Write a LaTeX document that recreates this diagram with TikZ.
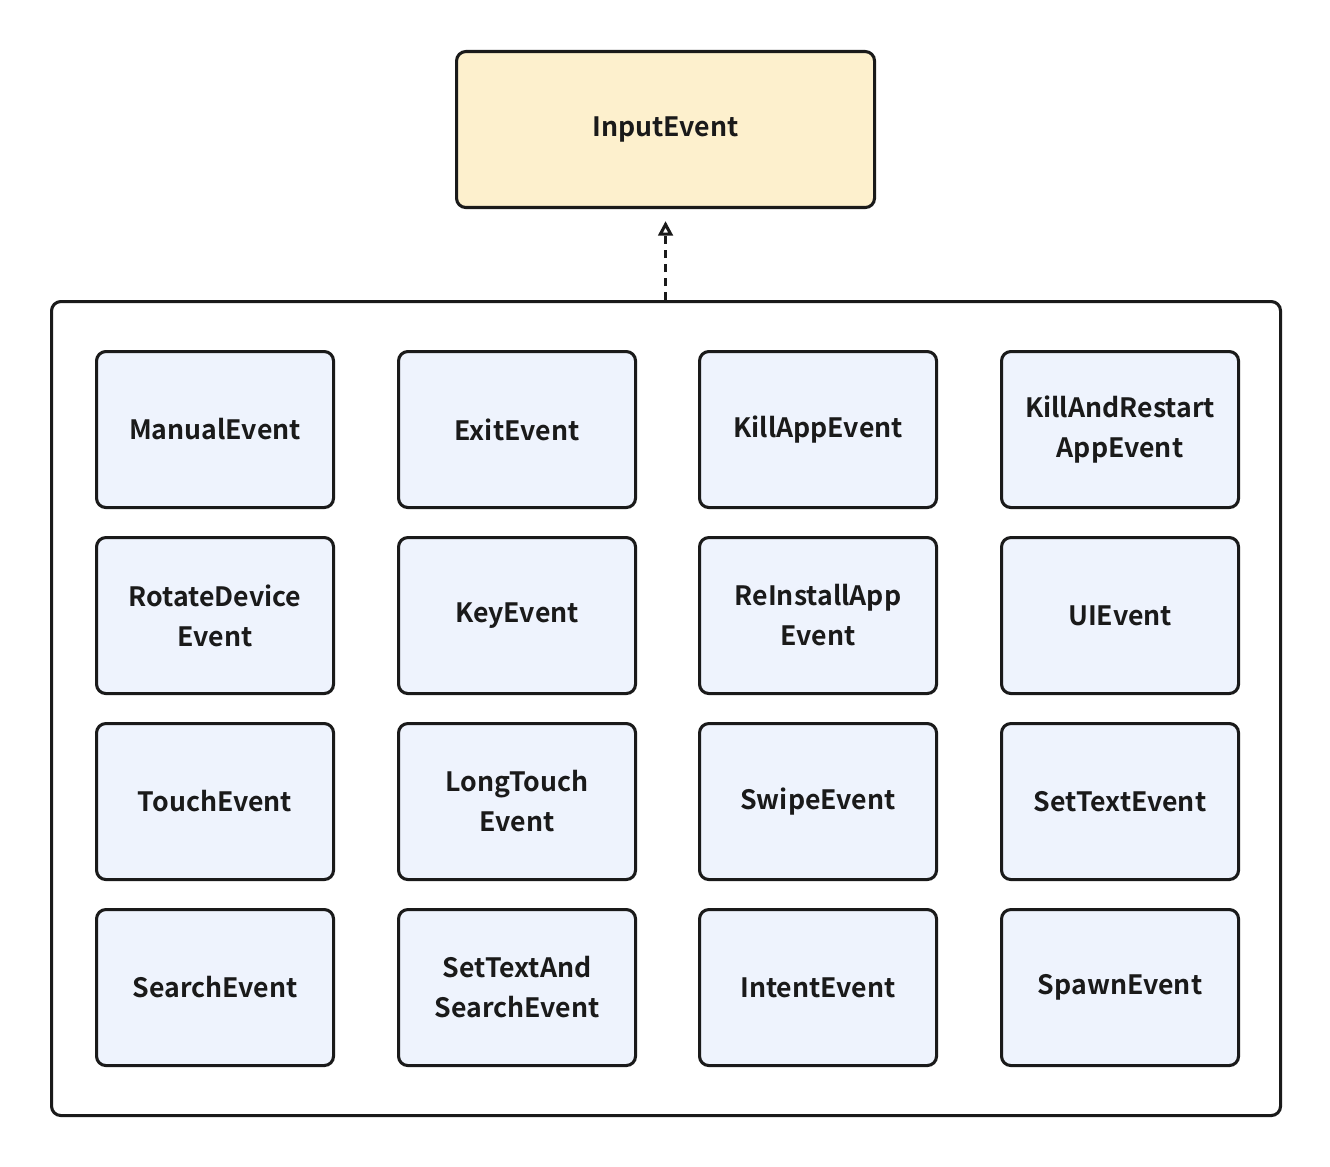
\documentclass[tikz,border=0pt]{standalone}
\usepackage{fontspec}
\setmainfont{Noto Sans CJK SC}[BoldFont={* Bold}]
\usetikzlibrary{arrows.meta}
\definecolor{topfill}{HTML}{FDF0CD}
\definecolor{boxfill}{HTML}{EEF3FD}
\definecolor{ink}{HTML}{1A1A1A}
\begin{document}
\begin{tikzpicture}[x=0.75pt,y=-0.75pt,
  box/.style={draw=ink,line width=2.3pt,rounded corners=7pt,fill=boxfill,minimum width=237*0.75pt,minimum height=156*0.75pt,align=center,font=\fontsize{20}{30}\selectfont\bfseries,text=ink,anchor=north west},
  top/.style={box,fill=topfill,minimum width=418*0.75pt},
  cont/.style={draw=ink,line width=2.3pt,rounded corners=7pt,minimum width=1229*0.75pt,minimum height=814*0.75pt,anchor=north west}]
\useasboundingbox (0,0) rectangle (1330,1166);
\node[top] (in) at (455,50) {InputEvent};
\node[cont] (c) at (50,300) {};
\draw[ink,line width=2.3pt,dash pattern=on 6pt off 4.5pt,-{Triangle[open,length=11pt,width=11pt]}] (c.north -| in.south) -- ([yshift=-9pt]in.south);
\foreach \t [count=\i from 0] in {ManualEvent,ExitEvent,KillAppEvent,{KillAndRestart\\AppEvent},
  {RotateDevice\\Event},KeyEvent,{ReInstallApp\\Event},UIEvent,
  TouchEvent,{LongTouch\\Event},SwipeEvent,SetTextEvent,
  SearchEvent,{SetTextAnd\\SearchEvent},IntentEvent,SpawnEvent}{
  \pgfmathtruncatemacro\r{int(\i/4)}
  \pgfmathtruncatemacro\k{mod(\i,4)}
  \pgfmathsetmacro\xx{{95,397,698,1000}[\k]}
  \pgfmathsetmacro\yy{350+186*\r}
  \node[box] (b\i) at (\xx,\yy) {\t};
}
\end{tikzpicture}
\end{document}
